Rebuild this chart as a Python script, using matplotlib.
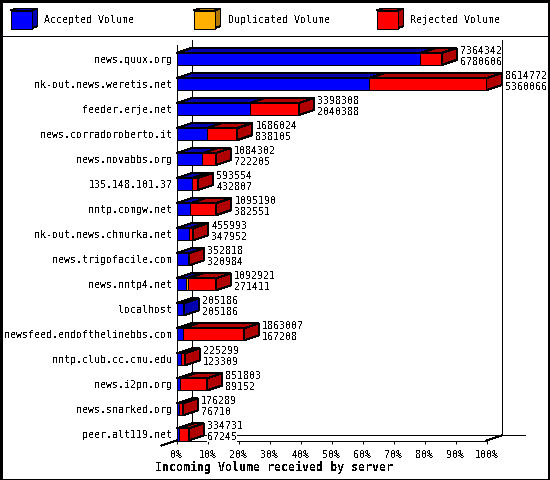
# Incoming volume by server: stacked 3D-look horizontal bars
import matplotlib
matplotlib.use("Agg")
import matplotlib.pyplot as plt
from matplotlib.patches import Polygon, Rectangle

servers = ["news.quux.org", "nk-out.news.weretis.net", "feeder.erje.net",
           "news.corradoroberto.it", "news.novabbs.org", "135.148.101.37",
           "nntp.comgw.net", "nk-out.news.chmurka.net", "news.trigofacile.com",
           "news.nntp4.net", "localhost", "newsfeed.endofthelinebbs.com",
           "nntp.club.cc.cmu.edu", "news.i2pn.org", "news.snarked.org",
           "peer.alt119.net"]
total = [7364342, 8614772, 3398308, 1686024, 1084302, 593554, 1095190, 455993,
         352818, 1092921, 205186, 1863007, 225299, 851803, 176289, 334731]
accepted = [6780606, 5360066, 2040388, 838105, 722205, 432807, 382551, 347952,
            320984, 271411, 205186, 167208, 123309, 89152, 76710, 67245]
duplicated = [0, 0, 0, 0, 0, 0, 0, 0, 0, 40000, 0, 0, 0, 0, 0, 0]
legend_names = ["Accepted Volume", "Duplicated Volume", "Rejected Volume"]
ticks = [0, 10, 20, 30, 40, 50, 60, 70, 80, 90, 100]

FONT = "DejaVu Sans Mono"
FACE = ["#0000ff", "#ffb000", "#ff0000"]
DARK = ["#0000b0", "#b07800", "#b00000"]
W, H = 550, 480
DX, DY = 15 / 3.1, 5 / 25  # depth of the 3D effect, in data units
LW = 0.72  # one pixel

plt.rcParams["text.antialiased"] = False
plt.rcParams["font.family"] = FONT
plt.rcParams["font.size"] = 7.2
plt.rcParams["axes.linewidth"] = LW

fig = plt.figure(figsize=(W / 100, H / 100), dpi=100, facecolor="white")

# frame and legend, in pixel units
bg = fig.add_axes([0, 0, 1, 1], zorder=0)
bg.set_xlim(0, W)
bg.set_ylim(H, 0)
bg.axis("off")
bg.plot([0.5, 548.5, 548.5, 0.5, 0.5], [0.5, 0.5, 479.5, 479.5, 0.5], color="black",
        lw=LW * 1.05, antialiased=False, clip_on=False, zorder=5)
bg.plot([0, 549], [35.5, 35.5], color="black", lw=LW, antialiased=False)
for x0, name, face, dark in zip([10.5, 193.5, 376.5], legend_names, FACE, DARK):
    bg.add_patch(Polygon([(x0, 10.5), (x0 + 6, 8.5), (x0 + 27, 8.5), (x0 + 21, 10.5)],
                         fc=dark, ec="black", lw=LW, antialiased=False))
    bg.add_patch(Polygon([(x0 + 21, 10.5), (x0 + 27, 8.5), (x0 + 27, 26), (x0 + 21, 28.5)],
                         fc=dark, ec="black", lw=LW, antialiased=False))
    bg.add_patch(Rectangle((x0, 10.5), 21, 18, fc=face, ec="black", lw=LW, antialiased=False))
    bg.text(x0 + 34, 20, name, va="center", ha="left")

# plot area: front plane of the bars
ax = fig.add_axes([176.5 / W, 1 - 440.5 / H, 310 / W, 395.5 / H], zorder=1)
ax.patch.set_alpha(0)
ax.set_xlim(0, 100)
ax.set_ylim(15.24, -0.56)
for side in ["top", "right"]:
    ax.spines[side].set_visible(False)
for side in ["left", "bottom"]:
    ax.spines[side].set_antialiased(False)

top_y = -0.76
line = dict(color="black", lw=LW, clip_on=False, antialiased=False, zorder=1)
floor_y = 15.24 - DY
ax.plot([DX, DX], [top_y, floor_y], **line)
ax.plot([100 + DX, 100 + DX], [top_y, floor_y], **line)
ax.plot([DX, 112.4], [floor_y, floor_y], **line)
ax.plot([-DX, DX], [15.24 + DY, floor_y], **line)
ax.plot([100, 100 + DX], [15.24, floor_y], **line)

scale = max(total)
outline = dict(ec="black", lw=LW, clip_on=False, antialiased=False, zorder=3)
for i, server in enumerate(servers):
    rejected = total[i] - accepted[i] - duplicated[i]
    left = 0
    y0, y1 = i - 0.24, i + 0.24
    for k, v in enumerate([accepted[i], duplicated[i], rejected]):
        if v <= 0:
            continue
        a, b = left / scale * 100, (left + v) / scale * 100
        ax.add_patch(Polygon([(a, y0), (a + DX, y0 - DY), (b + DX, y0 - DY), (b, y0)],
                             fc=DARK[k], **outline))
        ax.add_patch(Polygon([(a, y0), (b, y0), (b, y1), (a, y1)], fc=FACE[k], **outline))
        left += v
        last = k
    end = total[i] / scale * 100
    ax.add_patch(Polygon([(end, y0), (end + DX, y0 - DY), (end + DX, y1 - DY), (end, y1)],
                         fc=DARK[last], **outline))
    box = dict(fc="white", ec="none", pad=0)
    ax.text(end + DX + 1.1, i - 0.34, str(total[i]), va="center", ha="left",
            clip_on=False, zorder=4, bbox=box)
    ax.text(end + DX + 1.1, i + 0.1, str(accepted[i]), va="center", ha="left",
            clip_on=False, zorder=4, bbox=box)

ax.set_yticks(range(len(servers)))
ax.set_yticklabels(servers)
ax.tick_params(axis="y", length=0, pad=3)
ax.set_xticks(ticks)
ax.set_xticklabels([f"{t}%" for t in ticks])
ax.tick_params(axis="x", length=2.5, width=LW, pad=4)
ax.set_xlabel("Incoming Volume received by server", fontsize=8.4, fontweight="bold")
ax.xaxis.set_label_coords((274 - 176.5) / 310, -(467 - 440.5) / 395.5, transform=ax.transAxes)
ax.xaxis.label.set_verticalalignment("center")

fig.savefig("out.png", dpi=100)
